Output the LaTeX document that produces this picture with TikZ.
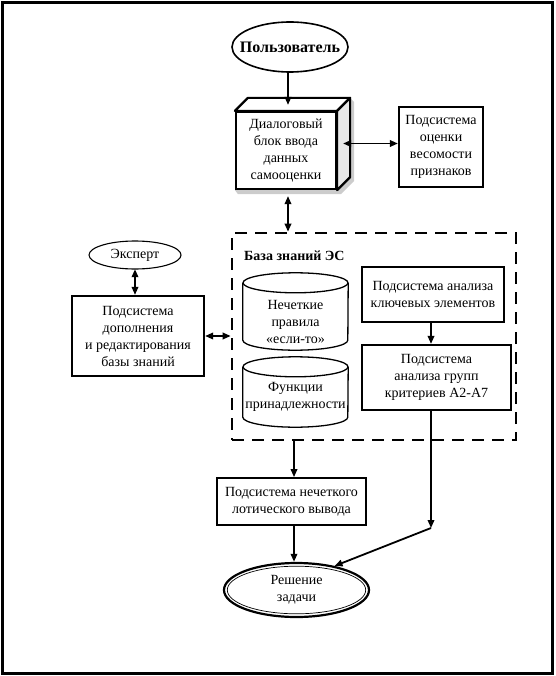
\documentclass[tikz,border=0pt]{standalone}
\usepackage{fontspec}
\setmainfont{Liberation Serif}
\newfontfamily\tnr{Liberation Serif}
\usetikzlibrary{shapes.geometric,arrows.meta,calc}
\begin{document}
\begin{tikzpicture}[x=1pt,y=-1pt,
  txt/.style={font=\tnr\fontsize{14}{17}\selectfont, align=center, inner sep=0pt},
  boxthick/.style={txt, draw, line width=2.2pt, rectangle},
  boxmed/.style={txt, draw, line width=1.8pt, rectangle},
  arr/.style={line width=1.8pt, -{Triangle[length=8pt,width=6.5pt]}},
  darr/.style={line width=1.8pt, {Triangle[length=8pt,width=6.5pt]}-{Triangle[length=8pt,width=6.5pt]}},
  dashbox/.style={draw, line width=2.6pt, dash pattern=on 12pt off 8pt},
  cylline/.style={line width=1.3pt}
]
\useasboundingbox (0,0) rectangle (555,676);
\draw[line width=2.8pt] (2.5,2.5) rectangle (552.5,673.5);

% user
\node[txt, minimum width=116, minimum height=50, font=\tnr\fontsize{16}{18}\selectfont\bfseries] (user) at (290,47) {Пользователь};
\draw[line width=1.6pt] (user.center) ellipse [x radius=58, y radius=25];

% 3D dialog block
\node[boxthick, minimum width=100, minimum height=77] (dialog) at (286,150.5) {};
\fill[gray!40] ($(dialog.south west)+(3,4)$) -- ($(dialog.south east)+(4,4)$) -- ($(dialog.south east)+(17,-9)$) -- ($(dialog.north east)+(17,-9)$) -- ($(dialog.north east)+(13,-13)$) -- ($(dialog.south east)+(13,-13)$) -- (dialog.south east) -- (dialog.south west) -- cycle;
\draw[line width=2.2pt, fill=white, line join=round] (dialog.north west) -- ++(13,-13) -- ($(dialog.north east)+(13,-13)$) -- (dialog.north east) -- cycle;
\draw[line width=2.2pt, fill=gray!18, line join=round] (dialog.north east) -- ++(13,-13) -- ($(dialog.south east)+(13,-13)$) -- (dialog.south east) -- cycle;
\node[boxthick, fill=white, minimum width=100, minimum height=77] (dialogf) at (dialog.center) {Диалоговый\\блок ввода\\данных\\самооценки};
\coordinate (dtop) at ($(dialog.north)+(2,-6)$);
\coordinate (dright) at ($(dialog.east)+(6,-7)$);

% ocenka
\node[boxthick, minimum width=84, minimum height=80] (ocenka) at (441,147) {Подсистема\\оценки\\весомости\\признаков};

% dashed knowledge base
\node[dashbox, minimum width=284, minimum height=207, inner sep=0pt] (kb) at (374,336.5) {};
\node[anchor=west, inner sep=0pt, font=\tnr\fontsize{14}{17}\selectfont\bfseries] (kbl) at (244,256) {База знаний ЭС};

% cylinders
\node[txt, minimum width=105, minimum height=77] (cyl1) at (295.5,311.5) {};
\draw[cylline] ($(cyl1.north west)+(0,10)$) -- ($(cyl1.south west)+(0,-10)$) arc[start angle=180, end angle=0, x radius=52.5, y radius=10] -- ($(cyl1.north east)+(0,10)$);
\draw[cylline] ($(cyl1.north)+(0,10)$) ellipse [x radius=52.5, y radius=10];
\node[txt] (cyl1t) at ($(cyl1.center)+(0,10)$) {Нечеткие\\правила\\«если-то»};

\node[txt, minimum width=105, minimum height=70] (cyl2) at (295.5,392) {};
\draw[cylline] ($(cyl2.north west)+(0,10)$) -- ($(cyl2.south west)+(0,-10)$) arc[start angle=180, end angle=0, x radius=52.5, y radius=10] -- ($(cyl2.north east)+(0,10)$);
\draw[cylline] ($(cyl2.north)+(0,10)$) ellipse [x radius=52.5, y radius=10];
\node[txt] (cyl2t) at ($(cyl2.center)+(0,5)$) {Функции\\принадлежности};

\node[boxthick, minimum width=142, minimum height=55] (kluch) at (433,294.5) {Подсистема анализа\\ключевых элементов};
\node[boxthick, minimum width=149, minimum height=65] (grupp) at (436.5,377.5) {Подсистема\\анализа групп\\критериев А2-А7};

% left
\node[txt, minimum width=92, minimum height=28] (expert) at (135,255) {Эксперт};
\draw[line width=1.1pt] (expert.center) ellipse [x radius=46, y radius=14];
\node[boxthick, minimum width=132, minimum height=80] (dop) at (138,336) {Подсистема\\дополнения\\и редактирования\\базы знаний};

% bottom
\node[boxmed, minimum width=149, minimum height=47] (vyvod) at (291.5,501.5) {Подсистема нечеткого\\лотического вывода};
\node[txt, minimum width=145, minimum height=54] (resh) at (296.5,590) {Решение\\задачи};
\draw[line width=2.2pt] (resh.center) ellipse [x radius=72.5, y radius=27];
\draw[line width=0.7pt] (resh.center) ellipse [x radius=69.2, y radius=23.8];

% connectors
\draw[arr] (user.south -| dtop) -- (dtop);
\draw[darr] (dright) -- (ocenka.west |- dright);
\draw[darr] ($(dialog.south)+(2,6)$) coordinate (dbot) -- (dbot |- kb.north);
\draw[darr] (expert.south) -- (expert.south |- dop.north);
\draw[darr] (dop.east) -- (kb.west |- dop.east);
\draw[arr] ($(kluch.south)+(-2,0)$) coordinate (ks) -- (ks |- grupp.north);
\coordinate (bend) at (431,528);
\draw[arr] (grupp.south -| bend) -- (bend);
\draw[arr] (bend) -- ($(resh.center)+(38,-24)$) coordinate (rtip);
\coordinate (kbout) at (294,440);
\draw[arr] (kb.south -| kbout) -- (kbout |- vyvod.north);
\draw[arr] (vyvod.south -| kbout) -- ($(resh.north -| kbout)+(0,-1)$);
\end{tikzpicture}
\end{document}
